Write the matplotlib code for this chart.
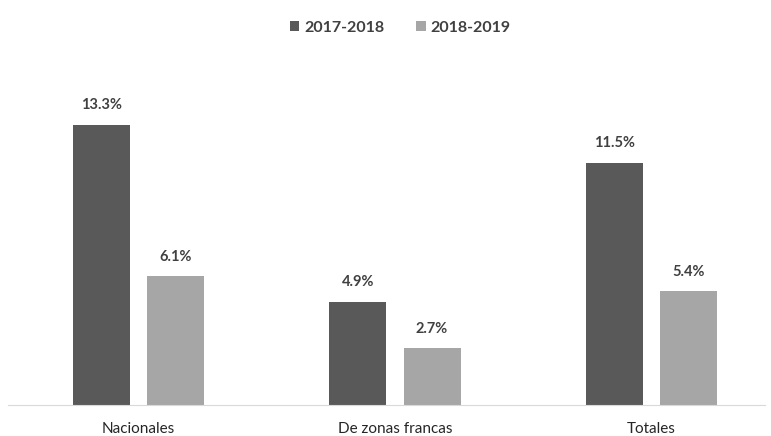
import numpy as np
import matplotlib.pyplot as plt

categories = ["Nacionales", "De zonas francas", "Totales"]
series_names = ["2017-2018", "2018-2019"]
values_1718 = [13.3, 4.9, 11.5]
values_1819 = [6.1, 2.7, 5.4]

plt.rcParams['font.family'] = ['Lato', 'DejaVu Sans']

fig = plt.figure(figsize=(7.71, 4.36), dpi=100)
ax = fig.add_axes([8 / 771, 1 - 405 / 436, 757 / 771, 316 / 436])

x = np.arange(len(categories))
w = 0.222
off = 0.145
b1 = ax.bar(x - off, values_1718, w, color="#595959", label=series_names[0])
b2 = ax.bar(x + off, values_1819, w, color="#a6a6a6", label=series_names[1])

for bars, vals in [(b1, values_1718), (b2, values_1819)]:
    for b, v in zip(bars, vals):
        ax.annotate(f"{v}%", (b.get_x() + b.get_width() / 2, v),
                    xytext=(0, 9), textcoords="offset points",
                    ha="center", va="bottom", fontsize=10.5,
                    fontweight="bold", color="#404040")

ax.set_xlim(-0.51, 2.444)
ax.set_ylim(0, 15)
ax.set_xticks(x)
ax.set_xticklabels(categories, fontsize=11, color="#262626")
ax.tick_params(axis="x", length=0, pad=12)
ax.set_yticks([])
for s in ["top", "right", "left"]:
    ax.spines[s].set_visible(False)
ax.spines["bottom"].set_color("#d9d9d9")

fig.legend(loc="center", bbox_to_anchor=(400 / 771, 1 - 28 / 436), ncol=2,
           frameon=False, handlelength=0.6, handleheight=0.6,
           handletextpad=0.3, columnspacing=2.0,
           prop={"weight": "bold", "size": 11.5})
for t in fig.legends[0].get_texts():
    t.set_color("#404040")

fig.savefig("out.png", dpi=100)
